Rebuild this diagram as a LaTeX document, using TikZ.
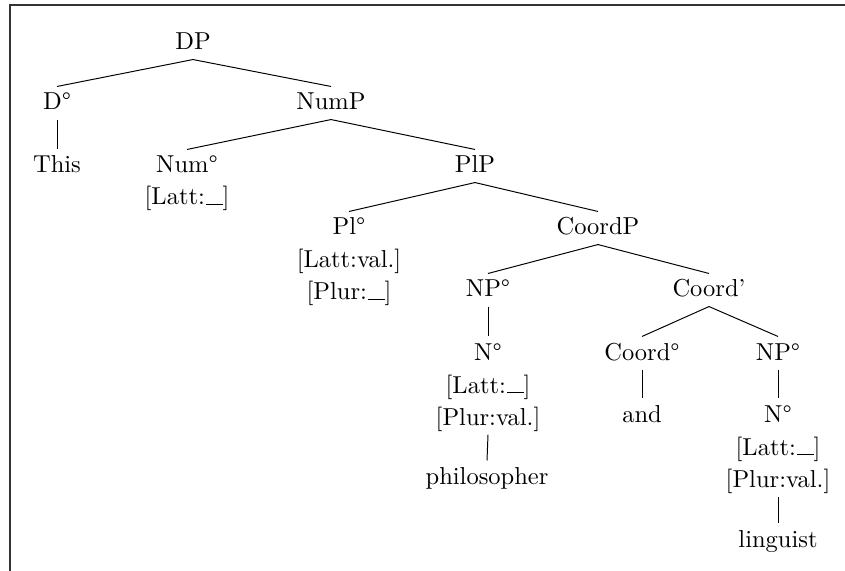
\documentclass[tikz,border=0pt]{standalone}
\newcommand\blankfill{\kern.06em\vbox{\hrule width.66em}}
\begin{document}
\begin{tikzpicture}[x=0.4082pt,y=-0.4082pt,
  lbl/.style={anchor=base,inner sep=0pt,text height=9.4pt,text depth=3.7pt,font=\fontsize{10}{12}\selectfont},
  branch/.style={line width=0.4pt},
  frameline/.style={line width=0.5pt,draw=black!80}]
\useasboundingbox (0,0) rectangle (845,571);
\draw[frameline] (10,571) -- (10,5) -- (845,5);
\node[lbl] (DP) at (193,50) {DP};
\node[lbl] (Dh) at (57,110) {D°};
\node[lbl] (this) at (57,173) {This};
\node[lbl] (NumP) at (331,110) {NumP};
\node[lbl] (Numh) at (187,173) {Num°};
\node[lbl] (NumF) at (187,205) {[Latt:\blankfill]};
\node[lbl] (PlP) at (475,173) {PlP};
\node[lbl] (Plh) at (349,235) {Pl°};
\node[lbl] (PlFa) at (349,268) {[Latt:val.]};
\node[lbl] (PlFb) at (349,300) {[Plur:\blankfill]};
\node[lbl] (CoordP) at (598,235) {CoordP};
\node[lbl] (NPa) at (488,297) {NP°};
\node[lbl] (Coordbar) at (709,297) {Coord’};
\node[lbl] (Na) at (488,360) {N°};
\node[lbl] (NaFa) at (488,393) {[Latt:\blankfill]};
\node[lbl] (NaFb) at (488,425) {[Plur:val.]};
\node[lbl] (phil) at (487,484) {philosopher};
\node[lbl] (Coordh) at (642,360) {Coord°};
\node[lbl] (and) at (642,422) {and};
\node[lbl] (NPb) at (778,360) {NP°};
\node[lbl] (Nb) at (778,422) {N°};
\node[lbl] (NbFa) at (778,455) {[Latt:\blankfill]};
\node[lbl] (NbFb) at (778,487) {[Plur:val.]};
\node[lbl] (ling) at (778,547) {linguist};
\draw[branch] (Dh.north) -- (DP.south) -- (NumP.north);
\draw[branch] (Dh.south) -- (this.north);
\draw[branch] (Numh.north) -- (NumP.south) -- (PlP.north);
\draw[branch] (Plh.north) -- (PlP.south) -- (CoordP.north);
\draw[branch] (NPa.north) -- (CoordP.south) -- (Coordbar.north);
\draw[branch] (NPa.south) -- (Na.north);
\draw[branch] (NaFb.south) -- (phil.north);
\draw[branch] (Coordh.north) -- (Coordbar.south) -- (NPb.north);
\draw[branch] (Coordh.south) -- (and.north);
\draw[branch] (NPb.south) -- (Nb.north);
\draw[branch] (NbFb.south) -- (ling.north);
\end{tikzpicture}
\end{document}
